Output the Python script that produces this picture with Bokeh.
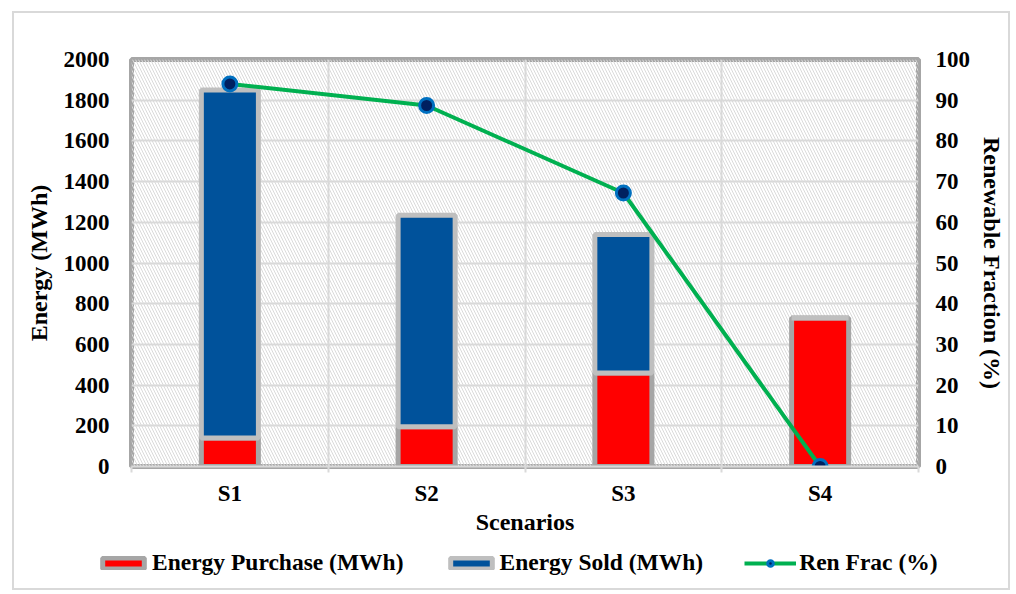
from bokeh.plotting import figure
from bokeh.layouts import column
from bokeh.models import (Range1d, LinearAxis, FixedTicker, Legend, LegendItem,
                          BoxAnnotation, ColumnDataSource)
from bokeh.embed import file_html
from bokeh.resources import INLINE

# Scenario results
scenarios = ["S1", "S2", "S3", "S4"]
energy_purchase = [140, 195, 460, 730]     # MWh
energy_sold = [1710, 1040, 680, 0]         # MWh
ren_frac = [94.0, 88.7, 67.2, 0.0]         # %

energy_ticks = list(range(0, 2001, 200))
frac_ticks = list(range(0, 101, 10))

FONT = "Liberation Serif"
TICK_FS = "23px"
TITLE_FS = "24px"
LEGEND_FS = "23.5px"

PURCHASE_STYLE = dict(fill_color="#ff0000", line_color="#a6a6a6", line_width=5)
SOLD_STYLE = dict(fill_color="#00529b", line_color="#bfbfbf", line_width=5)
LINE_STYLE = dict(line_color="#00b050", line_width=4)
PT_STYLE = dict(size=14, fill_color="#002060", line_color="#0070c0", line_width=3)

x_pos = [i + 0.5 for i in range(len(scenarios))]
stack_top = [a + b for a, b in zip(energy_purchase, energy_sold)]
src = ColumnDataSource(dict(x=x_pos, purchase=energy_purchase, sold=energy_sold,
                            top=stack_top, frac=ren_frac))

p = figure(frame_width=787, frame_height=407, output_backend="svg", toolbar_location=None,
           x_range=Range1d(0, len(scenarios)), y_range=Range1d(0, 2000),
           min_border_left=117, min_border_right=88, min_border_top=46,
           min_border_bottom=72)
p.extra_y_ranges = {"frac": Range1d(0, 100)}

p.outline_line_color = "#a6a6a6"
p.outline_line_width = 5
p.background_fill_color = "white"
p.border_fill_color = "white"

# diagonal hatch over the plotting area
p.add_layout(BoxAnnotation(fill_alpha=0, line_color=None, hatch_pattern="\\",
                           hatch_color="#dadada", hatch_scale=6, hatch_weight=1,
                           level="underlay"))

# grid
p.ygrid.ticker = FixedTicker(ticks=energy_ticks)
p.ygrid.grid_line_color = "#d9d9d9"
p.ygrid.grid_line_width = 2
p.xgrid.ticker = FixedTicker(ticks=list(range(1, len(scenarios))))
p.xgrid.grid_line_color = "#d9d9d9"
p.xgrid.grid_line_width = 2

# stacked bars
bw = 0.29
p.vbar(x="x", bottom=0, top="purchase", width=bw, source=src, **PURCHASE_STYLE)
p.vbar(x="x", bottom="purchase", top="top", width=bw, source=src, **SOLD_STYLE)

# renewable fraction line on the secondary axis
p.line(x="x", y="frac", source=src, y_range_name="frac", **LINE_STYLE)
p.scatter(x="x", y="frac", source=src, y_range_name="frac", **PT_STYLE)

# axes
xa = p.xaxis[0]
xa.ticker = FixedTicker(ticks=x_pos, minor_ticks=list(range(0, len(scenarios) + 1)))
xa.major_label_overrides = {x: s for x, s in zip(x_pos, scenarios)}
xa.axis_line_color = "#d9d9d9"
xa.axis_line_width = 2
xa.major_tick_line_color = None
xa.minor_tick_line_color = "#d9d9d9"
xa.minor_tick_line_width = 2
xa.minor_tick_in = 0
xa.minor_tick_out = 6
xa.axis_label = "Scenarios"

ya = p.yaxis[0]
ya.ticker = FixedTicker(ticks=energy_ticks)
ya.axis_line_color = None
ya.major_tick_line_color = None
ya.minor_tick_line_color = None
ya.axis_label = "Energy (MWh)"

ra = LinearAxis(y_range_name="frac", ticker=FixedTicker(ticks=frac_ticks),
                axis_label="Renewable Fraction (%)")
ra.axis_line_color = None
ra.major_tick_line_color = None
ra.minor_tick_line_color = None
p.add_layout(ra, "right")

for ax in (xa, ya, ra):
    ax.major_label_text_font = FONT
    ax.major_label_text_font_size = TICK_FS
    ax.major_label_text_font_style = "bold"
    ax.major_label_text_color = "black"
    ax.axis_label_text_font = FONT
    ax.axis_label_text_font_size = TITLE_FS
    ax.axis_label_text_font_style = "bold"
    ax.axis_label_text_color = "black"
xa.major_label_standoff = 8
xa.axis_label_standoff = 0
ya.major_label_standoff = 16
ya.axis_label_standoff = 9
ra.major_label_standoff = 11
ra.axis_label_standoff = 6

# legend strip underneath the chart; its key renderers reuse the same data
# but sit outside this strip's visible ranges, so only the legend shows
lf = figure(frame_width=992, frame_height=50, output_backend="svg", toolbar_location=None,
            min_border=0, x_range=Range1d(-20, -19), y_range=Range1d(-20, -19))
lf.axis.visible = False
lf.grid.visible = False
lf.outline_line_color = None
lf.border_fill_color = "white"
k_purchase = lf.vbar(x="x", bottom=0, top="purchase", width=bw, source=src, **PURCHASE_STYLE)
k_sold = lf.vbar(x="x", bottom="purchase", top="top", width=bw, source=src, **SOLD_STYLE)
k_line = lf.line(x="x", y="frac", source=src, **LINE_STYLE)
k_pts = lf.scatter(x="x", y="frac", source=src, **PT_STYLE)

legend = Legend(items=[LegendItem(label="Energy Purchase (MWh)", renderers=[k_purchase]),
                       LegendItem(label="Energy Sold (MWh)", renderers=[k_sold]),
                       LegendItem(label="Ren Frac (%)", renderers=[k_line, k_pts])],
                orientation="horizontal", location=(83, 12),
                label_text_font=FONT, label_text_font_size=LEGEND_FS,
                label_text_font_style="bold", label_text_color="black",
                glyph_width=52, glyph_height=14, label_standoff=3, spacing=41,
                border_line_color=None, background_fill_alpha=0,
                padding=4, margin=0)
lf.add_layout(legend)

page = column(p, lf, spacing=0)
page.margin = (11, 8, 0, 12)
page.styles = {"border": "2px solid #d9d9d9"}

open("out.html", "w").write(file_html(page, INLINE))
